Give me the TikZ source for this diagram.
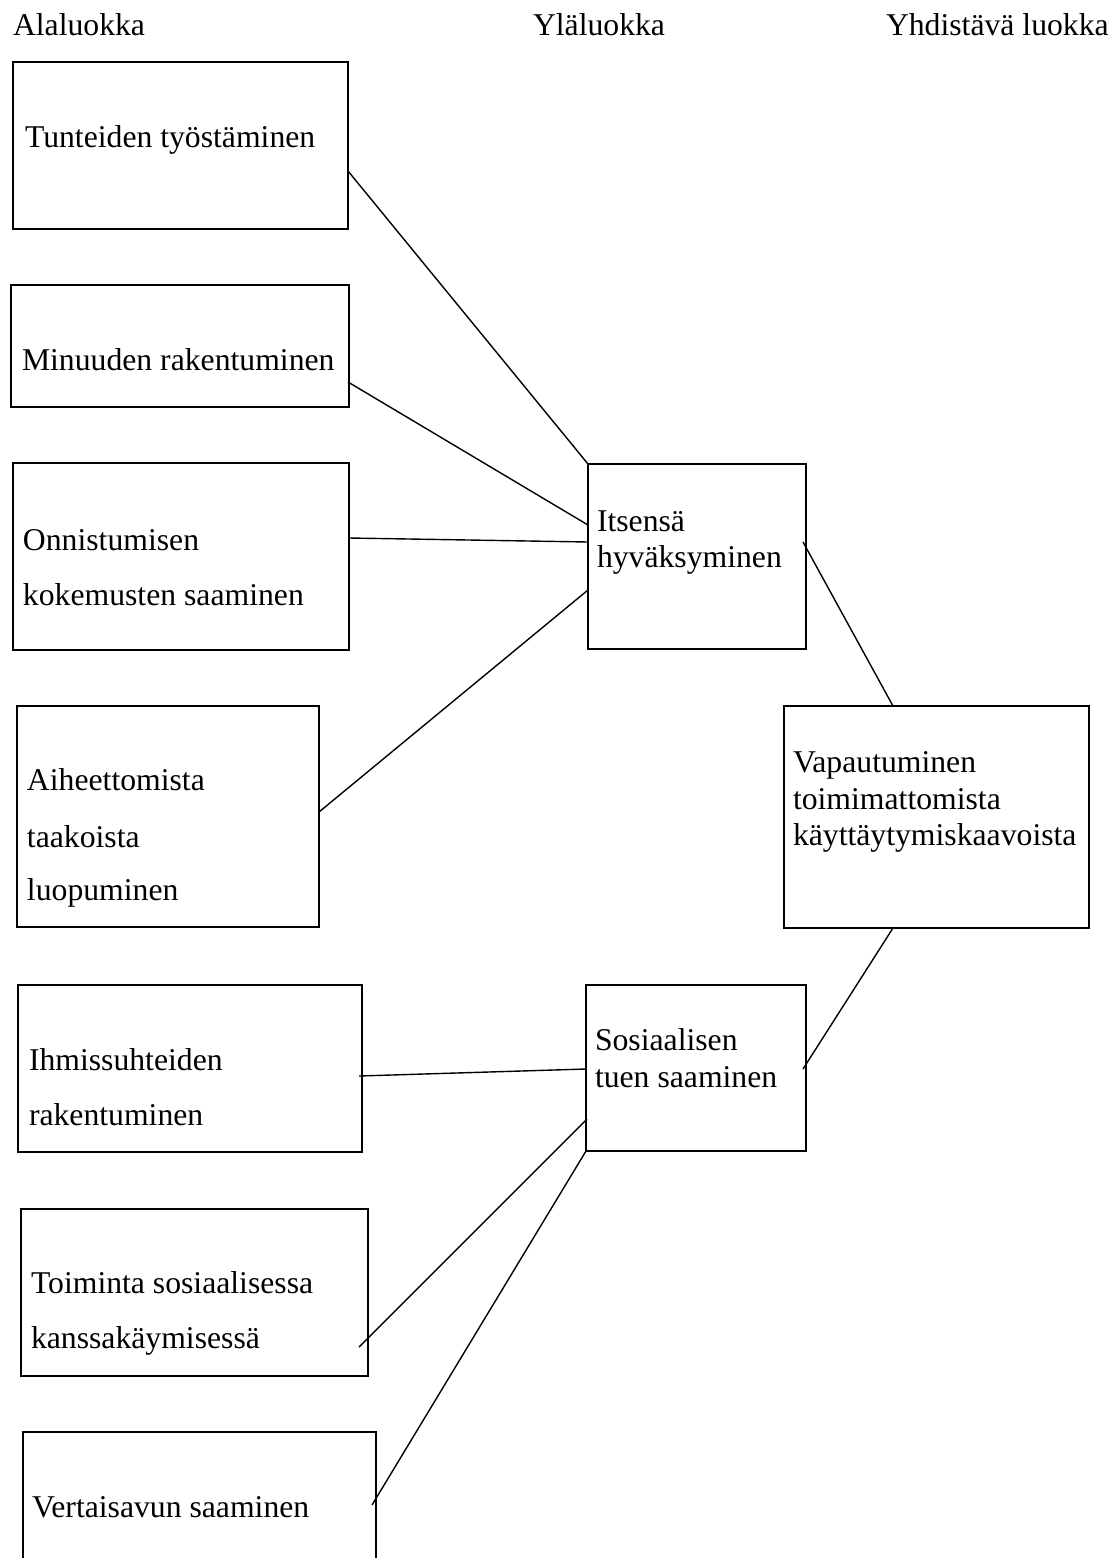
\documentclass[tikz,border=0pt]{standalone}
\usepackage{fontspec}
\setmainfont{Liberation Serif}
\usetikzlibrary{calc}
\begin{document}
\begin{tikzpicture}[x=1pt,y=1pt,
  box/.style={draw, line width=2pt, rectangle, inner sep=0pt, outer sep=0pt, anchor=north west},
  txt/.style={anchor=base west, inner sep=0pt, outer sep=0pt, font=\fontsize{31.7}{38}\selectfont},
  conn/.style={line width=1.4pt}]
\useasboundingbox (0,0) rectangle (1119,-1558);
\clip (0,0) rectangle (1119,-1558);
\fill[white] (0,0) rectangle (1119,-1558);

% headers
\node[txt] (h1) at (13,-35) {Alaluokka};
\node[txt] (h2) at (533,-35) {Yläluokka};
\node[txt] (h3) at (886,-35) {Yhdistävä luokka};

% left boxes
\node[box, minimum width=335, minimum height=167] (b1) at (13,-62) {};
\node[txt] (t1) at (25,-147) {Tunteiden työstäminen};

\node[box, minimum width=338, minimum height=122] (b2) at (11,-285) {};
\node[txt] (t2) at (22,-370) {Minuuden rakentuminen};

\node[box, minimum width=336, minimum height=187] (b3) at (13,-463) {};
\node[txt] (t3a) at (23,-550) {Onnistumisen};
\node[txt] (t3b) at (23,-605) {kokemusten saaminen};

\node[box, minimum width=302, minimum height=221] (b4) at (17,-706) {};
\node[txt] (t4a) at (27,-790) {Aiheettomista};
\node[txt] (t4b) at (27,-847) {taakoista};
\node[txt] (t4c) at (27,-900) {luopuminen};

\node[box, minimum width=344, minimum height=167] (b5) at (18,-985) {};
\node[txt] (t5a) at (29,-1070) {Ihmissuhteiden};
\node[txt] (t5b) at (29,-1125) {rakentuminen};

\node[box, minimum width=347, minimum height=167] (b6) at (21,-1209) {};
\node[txt] (t6a) at (31,-1293) {Toiminta sosiaalisessa};
\node[txt] (t6b) at (31,-1348) {kanssakäymisessä};

\node[box, minimum width=353, minimum height=200] (b7) at (23,-1432) {};
\node[txt] (t7) at (32,-1517) {Vertaisavun saaminen};

% middle boxes
\node[box, minimum width=218, minimum height=185] (m1) at (588,-464) {};
\node[txt] (tm1a) at (597,-531) {Itsensä};
\node[txt] (tm1b) at (597,-567) {hyväksyminen};

\node[box, minimum width=220, minimum height=166] (m2) at (586,-985) {};
\node[txt] (tm2a) at (595,-1050) {Sosiaalisen};
\node[txt] (tm2b) at (595,-1087) {tuen saaminen};

% right box
\node[box, minimum width=305, minimum height=222] (r1) at (784,-706) {};
\node[txt] (tr1a) at (793,-772) {Vapautuminen};
\node[txt] (tr1b) at (793,-809) {toimimattomista};
\node[txt] (tr1c) at (793,-845) {käyttäytymiskaavoista};

% connectors
\draw[conn] ($(b1.north east)+(0,-109)$) -- (m1.north west);
\draw[conn] ($(b2.north east)+(-1,-97)$) -- ($(m1.north west)+(0,-61)$);
\draw[conn] ($(b3.north east)+(0,-75)$) -- ($(m1.north west)+(0,-78)$);
\draw[conn] ($(b4.north east)+(0,-106)$) -- ($(m1.north west)+(0,-126)$);
\draw[conn] ($(m1.north east)+(-3,-78)$) -- ($(r1.north west)+(109,0)$);
\draw[conn] ($(r1.south west)+(109,0)$) -- ($(m2.north east)+(-3,-84)$);
\draw[conn] ($(b5.north east)+(-3,-91)$) -- ($(m2.north west)+(0,-84)$);
\draw[conn] ($(b6.north east)+(-9,-138)$) -- ($(m2.north west)+(1,-134)$);
\draw[conn] ($(b7.north east)+(-4,-73)$) -- (m2.south west);
\end{tikzpicture}
\end{document}
